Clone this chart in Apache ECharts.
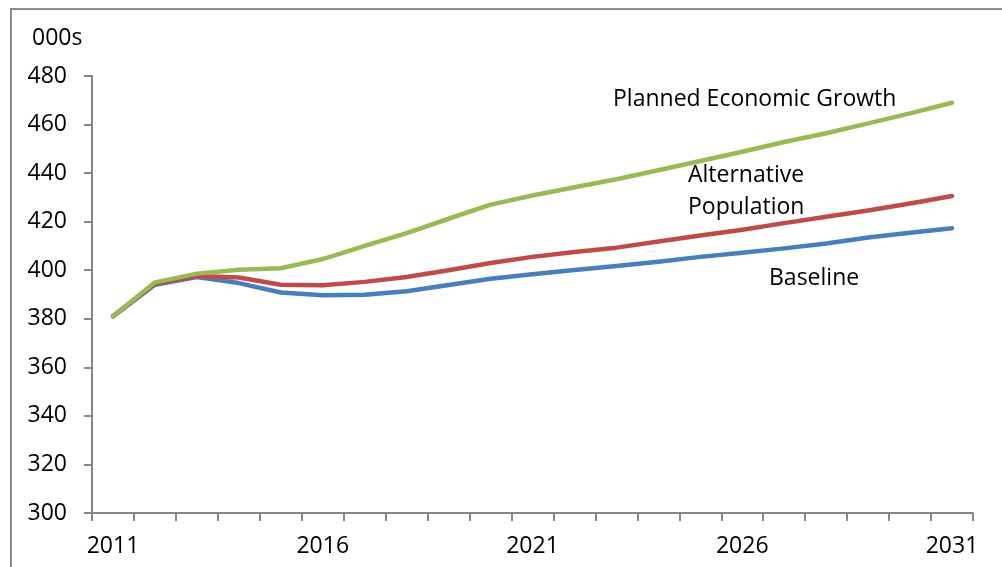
<!DOCTYPE html>
<html>
<head>
<meta charset="utf-8">
<script src="https://cdn.jsdelivr.net/npm/echarts@6/dist/echarts.min.js"></script>
<style>
html,body{margin:0;padding:0;background:#fff;}
#chart{width:1002px;height:567px;}
</style>
</head>
<body>
<div id="chart"></div>
<script>
var years = ['2011','2012','2013','2014','2015','2016','2017','2018','2019','2020','2021','2022','2023','2024','2025','2026','2027','2028','2029','2030','2031'];
var baseline = [381, 394, 397.2, 394.7, 390.8, 389.7, 389.9, 391.3, 393.9, 396.5, 398.3, 400.1, 401.7, 403.5, 405.5, 407.2, 409.0, 411.0, 413.5, 415.4, 417.3];
var alternative = [381, 394.5, 397.6, 397.0, 394.0, 393.8, 395.2, 397.2, 400.0, 403.0, 405.5, 407.5, 409.3, 411.8, 414.3, 416.7, 419.4, 422.0, 424.6, 427.5, 430.6];
var planned = [381, 395, 398.6, 400.2, 400.8, 404.6, 410.0, 415.3, 421.2, 427.0, 430.8, 434.2, 437.5, 441.2, 445.0, 448.8, 452.8, 456.4, 460.5, 464.6, 469.0];
var yTicks = {min: 300, max: 480, step: 20};
var unitLabel = '000s';
var seriesNames = ['Baseline', 'Alternative Population', 'Planned Economic Growth'];

var FONT = 'Open Sans';
var FS = 23;
var chart = echarts.init(document.getElementById('chart'), null, {renderer: 'canvas'});
var axisColor = '#868686';
function line(name, data, color) {
  return {
    name: name, type: 'line', data: data, symbol: 'none', smooth: false,
    lineStyle: {color: color, width: 4.5, cap: 'round', join: 'round'},
    itemStyle: {color: color}, animation: false
  };
}
var tf = FS + 'px "Open Sans"';
chart.setOption({
  animation: false,
  backgroundColor: '#fff',
  grid: {left: 92, right: 29, top: 76, bottom: 54, containLabel: false},
  xAxis: {
    type: 'category', data: years, boundaryGap: true,
    axisLine: {show: true, lineStyle: {color: axisColor, width: 2}},
    axisTick: {show: true, interval: 0, length: 8, lineStyle: {color: axisColor, width: 2}},
    axisLabel: {interval: 4, color: '#000', fontFamily: FONT, fontSize: FS, margin: 22},
    splitLine: {show: false}
  },
  yAxis: {
    type: 'value', min: yTicks.min, max: yTicks.max, interval: yTicks.step,
    axisLine: {show: true, lineStyle: {color: axisColor, width: 2}},
    axisTick: {show: true, length: 8, lineStyle: {color: axisColor, width: 2}},
    axisLabel: {color: '#000', fontFamily: FONT, fontSize: FS, margin: 25},
    splitLine: {show: false}
  },
  series: [
    line(seriesNames[0], baseline, '#4A7EBB'),
    line(seriesNames[1], alternative, '#BE4B48'),
    line(seriesNames[2], planned, '#98B954')
  ],
  graphic: [
    {type: 'rect', silent: true, shape: {x: 11, y: 9, width: 1100, height: 700},
     style: {fill: 'none', stroke: '#8c8c8c', lineWidth: 2}},
    {type: 'text', left: 32, top: 27, style: {text: unitLabel, fill: '#000', font: tf}},
    {type: 'text', left: 613, top: 88, style: {text: 'Planned Economic Growth', fill: '#000', font: tf}},
    {type: 'text', left: 688, top: 159, style: {text: 'Alternative\nPopulation', fill: '#000', font: tf, lineHeight: 32}},
    {type: 'text', left: 769, top: 267, style: {text: 'Baseline', fill: '#000', font: tf}}
  ]
});
</script>
</body>
</html>
